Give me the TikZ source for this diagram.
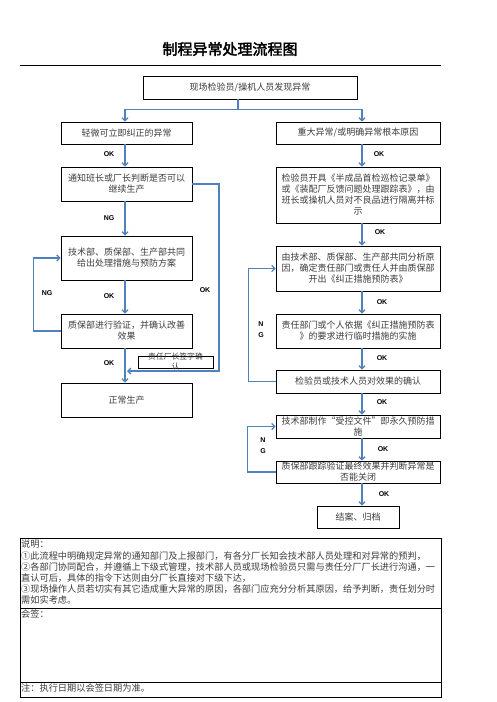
\documentclass[tikz,border=0pt]{standalone}
\usepackage{fontspec}
\setmainfont{Noto Sans CJK SC}
\newfontfamily\labelfont{Liberation Sans}
\newfontfamily\titlefont[AutoFakeBold=2.5]{Noto Sans CJK SC}
\usepackage{tikz}
\usetikzlibrary{arrows.meta, calc}
\definecolor{flowblue}{RGB}{79,129,189}
\definecolor{boxtext}{RGB}{60,60,60}

\begin{document}
\begin{tikzpicture}[x=1pt, y=-1pt,
    box/.style={draw=black, line width=0.8pt, inner sep=1pt, align=center,
                font=\fontsize{9}{11}\selectfont, text=boxtext},
    flow/.style={draw=flowblue, line width=1.3pt, -{Straight Barb[length=3pt,width=6pt]}},
    tag/.style={font=\labelfont\bfseries\fontsize{7}{8}\selectfont, align=center, inner sep=0pt},
    notetext/.style={anchor=north west, align=left, inner sep=1pt,
                     font=\fontsize{9.2}{11.2}\selectfont, text=boxtext}]
    \useasboundingbox (0,0) rectangle (496,702);

    % title
    \node[font=\titlefont\bfseries\fontsize{15}{18}\selectfont] (title) at (230,49) {制程异常处理流程图};
    \draw[line width=0.9pt] (20,65) -- (441,65);

    \node[box, minimum width=214, minimum height=23] (find) at (250,87.5) {现场检验员/操机人员发现异常};

    % left branch
    \node[box, minimum width=131, minimum height=22] (minor) at (126.5,133) {轻微可立即纠正的异常};
    \node[box, minimum width=131, minimum height=34] (notify) at (126.5,184) {通知班长或厂长判断是否可以\\继续生产};
    \node[box, minimum width=131, minimum height=44] (plan) at (126.5,258) {技术部、质保部、生产部共同\\给出处理措施与预防方案};
    \node[box, minimum width=131, minimum height=34] (verify) at (126.5,331) {质保部进行验证，并确认改善\\效果};
    \node[box, minimum width=131, minimum height=34] (normal) at (126.5,400) {正常生产};
    \node[draw, line width=0.8pt, minimum width=75, minimum height=12, inner sep=0pt] (sign) at (175.5,362) {};
    \node[align=center, text=boxtext, font=\fontsize{7.8}{10}\selectfont, inner sep=0pt] (signtext) at (sign) {责任厂长签字确\\认};

    % right branch
    \node[box, minimum width=164, minimum height=22] (major) at (358,133) {重大异常/或明确异常根本原因};
    \node[box, minimum width=164, minimum height=56] (isolate) at (358,195) {检验员开具《半成品首检巡检记录单》\\或《装配厂反馈问题处理跟踪表》，由\\班长或操机人员对不良品进行隔离并标\\示};
    \node[box, minimum width=164, minimum height=45] (analyse) at (358,268.5) {由技术部、质保部、生产部共同分析原\\因，确定责任部门或责任人并由质保部\\开出《纠正措施预防表》};
    \node[box, minimum width=164, minimum height=34] (interim) at (358,331) {责任部门或个人依据《纠正措施预防表\\》的要求进行临时措施的实施};
    \node[box, minimum width=164, minimum height=23] (confirm) at (358,381.5) {检验员或技术人员对效果的确认};
    \node[box, minimum width=164, minimum height=23] (permanent) at (358,426.5) {技术部制作“受控文件”即永久预防措\\施};
    \node[box, minimum width=164, minimum height=22] (close) at (358,472) {质保部跟踪验证最终效果并判断异常是\\否能关闭};
    \node[box, minimum width=82, minimum height=22] (archive) at (358,517) {结案、归档};

    \coordinate (sx) at (238,0);
    \coordinate (lx) at (125,0);
    \coordinate (rx) at (362,0);
    \coordinate (merge) at (127,371);

    % connectors
    \draw[flow] (find.south -| sx) -- ++(0,10) -| (minor.north -| lx);
    \draw[flow] (find.south -| sx) -- ++(0,10) -| (major.north -| rx);
    \draw[flow] (minor.south -| lx) -- (notify.north -| lx);
    \draw[flow] (notify.south -| lx) -- (plan.north -| lx);
    \draw[flow] (plan.south -| lx) -- (verify.north -| lx);
    \draw[flow] (verify.south -| lx) -- (normal.north -| lx);
    \draw[flow] (verify.west) -- ++(-27,0) |- (plan.west);
    \draw[flow] (notify.east) -| ($(merge)+(92,0)$) -- (merge);
    \draw[flow] (major.south -| rx) -- (isolate.north -| rx);
    \draw[flow] (isolate.south -| rx) -- (analyse.north -| rx);
    \draw[flow] (analyse.south -| rx) -- (interim.north -| rx);
    \draw[flow] (interim.south -| rx) -- (confirm.north -| rx);
    \draw[flow] (confirm.south -| rx) -- (permanent.north -| rx);
    \draw[flow] (permanent.south -| rx) -- (close.north -| rx);
    \draw[flow] (close.south -| rx) -- (archive.north -| rx);
    \draw[flow] (confirm.west) -- ++(-27,0) |- (analyse.west);
    \draw[flow] (close.west) -- ++(-28,0) |- (permanent.west);

    % labels
    \node[tag] (okA) at (109,154) {OK};
    \node[tag] (ngA) at (109,218) {NG};
    \node[tag] (okB) at (109,296) {OK};
    \node[tag] (ngB) at (47,293) {NG};
    \node[tag] (okC) at (109,363) {OK};
    \node[tag] (okD) at (205,290) {OK};
    \node[tag] (okE) at (379,154) {OK};
    \node[tag] (okF) at (380,232) {OK};
    \node[tag] (okG) at (382,302) {OK};
    \node[tag] (okH) at (382,358) {OK};
    \node[tag] (okI) at (382,402) {OK};
    \node[tag] (okJ) at (383,449) {OK};
    \node[tag] (okK) at (384,494) {OK};
    \node[tag, font=\labelfont\bfseries\fontsize{7}{11}\selectfont] (ngC) at (261,330) {N\\G};
    \node[tag, font=\labelfont\bfseries\fontsize{7}{11}\selectfont] (ngD) at (263,446) {N\\G};

    % notes table
    \draw[line width=0.9pt] (20,538) rectangle (441,697);
    \draw[line width=0.9pt] (20,608) -- (441,608);
    \draw[line width=0.9pt] (20,682) -- (441,682);
    \node[notetext] (note) at (20,539) {说明：\\
        ①此流程中明确规定异常的通知部门及上报部门，有各分厂长知会技术部人员处理和对异常的预判，\\
        ②各部门协同配合，并遵循上下级式管理，技术部人员或现场检验员只需与责任分厂厂长进行沟通，一\\
        直认可后，具体的指令下达则由分厂长直接对下级下达，\\
        ③现场操作人员若切实有其它造成重大异常的原因，各部门应充分分析其原因，给予判断，责任划分时\\
        需如实考虑。};
    \node[notetext] (countersign) at (20,609) {会签：};
    \node[notetext] (remark) at (20,683) {注：执行日期以会签日期为准。};
\end{tikzpicture}
\end{document}
